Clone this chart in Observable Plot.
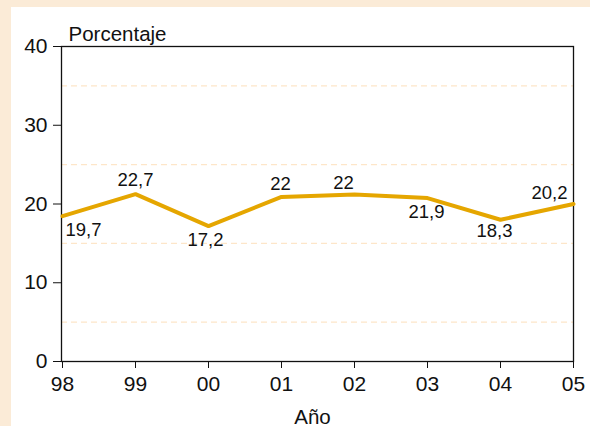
<!DOCTYPE html>
<html>
<head>
<meta charset="utf-8">
<script src="https://cdn.jsdelivr.net/npm/d3@7"></script>
<script src="https://cdn.jsdelivr.net/npm/@observablehq/plot@0.6"></script>
<style>
  html, body { margin: 0; padding: 0; background: #ffffff; }
  #wrap { width: 590px; height: 426px; box-sizing: border-box; padding-left: 11px; padding-top: 7px; background: #fbebd7; }
  #chart { background: #ffffff; width: 579px; height: 419px; }
  #chart svg { display: block; }
</style>
</head>
<body>
<div id="wrap"><div id="chart"></div></div>
<script>
// Data
const years = ["98", "99", "00", "01", "02", "03", "04", "05"];
const values = [18.45, 21.25, 17.2, 20.9, 21.2, 20.75, 18.0, 20.0];
const labels = ["19,7", "22,7", "17,2", "22", "22", "21,9", "18,3", "20,2"];
const yTicks = [0, 10, 20, 30, 40];
const gridValues = [5, 15, 25, 35];

// Label placement (layout, kept separate from data)
const labelDx = [21, 0, -3, -1, -11, -1, -6, -24];
const labelDy = [14, -14, 14, -13, -11, 14, 11, -11];

const rows = years.map((y, i) => ({year: y, value: values[i], label: labels[i]}));

const font = "'Liberation Sans', Arial, sans-serif";

const labelMarks = rows.map((d, i) => Plot.text([d], {
  x: "year", y: "value", text: "label",
  dx: labelDx[i], dy: labelDy[i],
  fontSize: 18.5, fill: "#111", textAnchor: "middle", lineAnchor: "middle"
}));

const chart = Plot.plot({
  width: 579,
  height: 419,
  marginLeft: 50,
  marginTop: 39,
  marginRight: 17,
  marginBottom: 65,
  style: {fontFamily: font, background: "#ffffff", color: "#111"},
  x: {type: "point", domain: years, padding: 0},
  y: {domain: [0, 40]},
  marks: [
    Plot.ruleY(gridValues, {stroke: "#fde6c9", strokeWidth: 1.2, strokeDasharray: "6,4"}),
    Plot.frame({stroke: "#111", strokeWidth: 1.3}),
    Plot.axisY({ticks: yTicks, tickSize: 8, tickPadding: 6, fontSize: 21, label: null, stroke: "#111"}),
    Plot.axisX({tickSize: 7, tickPadding: 8, fontSize: 21, label: null, stroke: "#111"}),
    Plot.line(rows, {x: "year", y: "value", stroke: "#e5a600", strokeWidth: 4, strokeLinejoin: "miter"}),
    ...labelMarks,
    Plot.text(["Porcentaje"], {frameAnchor: "top-left", text: d => d, textAnchor: "start", lineAnchor: "bottom", dx: 7, dy: -6, fontSize: 20.5, fill: "#111"}),
    Plot.text(["Año"], {frameAnchor: "bottom", text: d => d, textAnchor: "middle", lineAnchor: "bottom", dx: -5, dy: 62, fontSize: 20.5, fill: "#111"})
  ]
});
document.getElementById("chart").appendChild(chart);
</script>
</body>
</html>
